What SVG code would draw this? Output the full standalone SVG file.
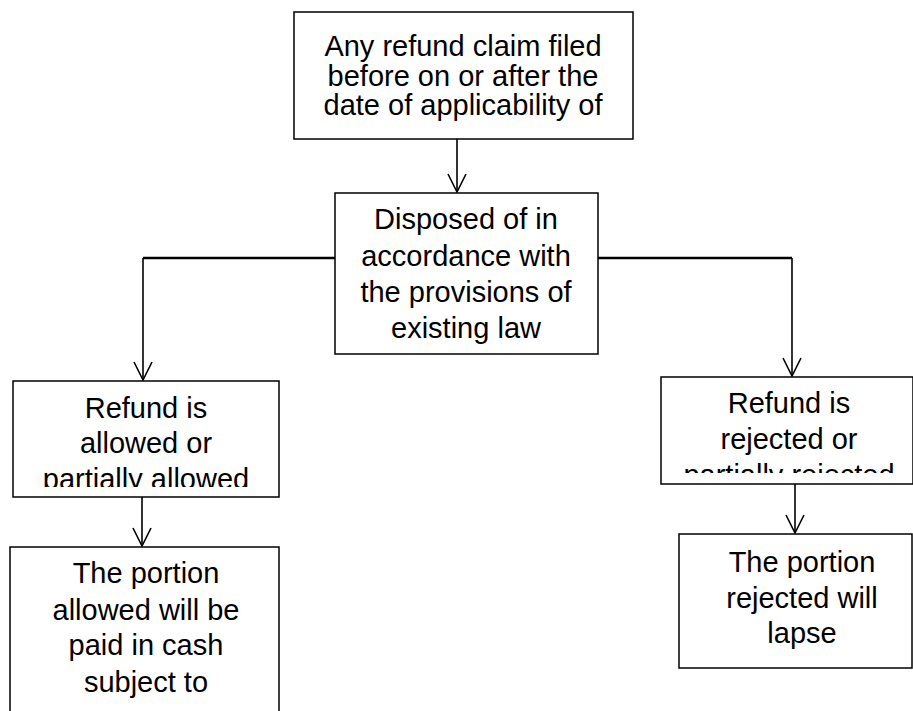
<svg xmlns="http://www.w3.org/2000/svg" width="913" height="711" viewBox="0 0 913 711">
<style>
.box{fill:#fff;stroke:#000;stroke-width:1.5}
.t{font-family:"Liberation Sans",Arial,sans-serif;font-size:29px;fill:#000;text-anchor:middle}
.c{fill:none;stroke:#000;stroke-width:1.6}
.h{fill:none;stroke:#000;stroke-width:2.6}
</style>
<defs>
<marker id="arr" markerUnits="userSpaceOnUse" markerWidth="24" markerHeight="24" viewBox="-21 -12 24 24" refX="0" refY="0" orient="auto">
<path d="M-18,-9 L0,0 L-18,9" fill="none" stroke="#000" stroke-width="1.6"/>
</marker>
<clipPath id="clipL"><rect x="13" y="381" width="266" height="106"/></clipPath>
<clipPath id="clipR"><rect x="661" y="377" width="252" height="96"/></clipPath>
</defs>
<rect width="913" height="711" fill="#fff"/>
<g id="connectors">
<line class="c" x1="457" y1="139" x2="457" y2="192" marker-end="url(#arr)"/>
<polyline class="h" points="335,258 143,258"/>
<line class="c" x1="143" y1="258" x2="143" y2="380" marker-end="url(#arr)"/>
<polyline class="h" points="598,258 792,258"/>
<line class="c" x1="792" y1="258" x2="792" y2="376" marker-end="url(#arr)"/>
<line class="c" x1="142" y1="497" x2="142" y2="546" marker-end="url(#arr)"/>
<line class="c" x1="795" y1="484" x2="795" y2="533" marker-end="url(#arr)"/>
</g>
<g id="n1">
<rect class="box" x="294" y="12" width="339" height="127"/>
<text class="t" x="463" y="56">Any refund claim filed</text>
<text class="t" x="463" y="86">before on or after the</text>
<text class="t" x="463" y="115">date of applicability of</text>
</g>
<g id="n2">
<rect class="box" x="335" y="193" width="263" height="161"/>
<text class="t" x="466" y="229">Disposed of in</text>
<text class="t" x="466" y="266">accordance with</text>
<text class="t" x="466" y="302">the provisions of</text>
<text class="t" x="466" y="338">existing law</text>
</g>
<g id="n3">
<rect class="box" x="13" y="381" width="266" height="116"/>
<g clip-path="url(#clipL)">
<text class="t" x="146" y="418">Refund is</text>
<text class="t" x="146" y="453">allowed or</text>
<text class="t" x="146" y="489">partially allowed</text>
</g>
</g>
<g id="n4">
<rect class="box" x="661" y="377" width="252" height="107"/>
<g clip-path="url(#clipR)">
<text class="t" x="789" y="413">Refund is</text>
<text class="t" x="789" y="449">rejected or</text>
<text class="t" x="789" y="485">partially rejected</text>
</g>
</g>
<g id="n5">
<rect class="box" x="10" y="547" width="269" height="180"/>
<text class="t" x="146" y="583">The portion</text>
<text class="t" x="146" y="620">allowed will be</text>
<text class="t" x="146" y="655">paid in cash</text>
<text class="t" x="146" y="692">subject to</text>
</g>
<g id="n6">
<rect class="box" x="679" y="534" width="233" height="134"/>
<text class="t" x="802" y="572">The portion</text>
<text class="t" x="802" y="608">rejected will</text>
<text class="t" x="802" y="643">lapse</text>
</g>
</svg>
